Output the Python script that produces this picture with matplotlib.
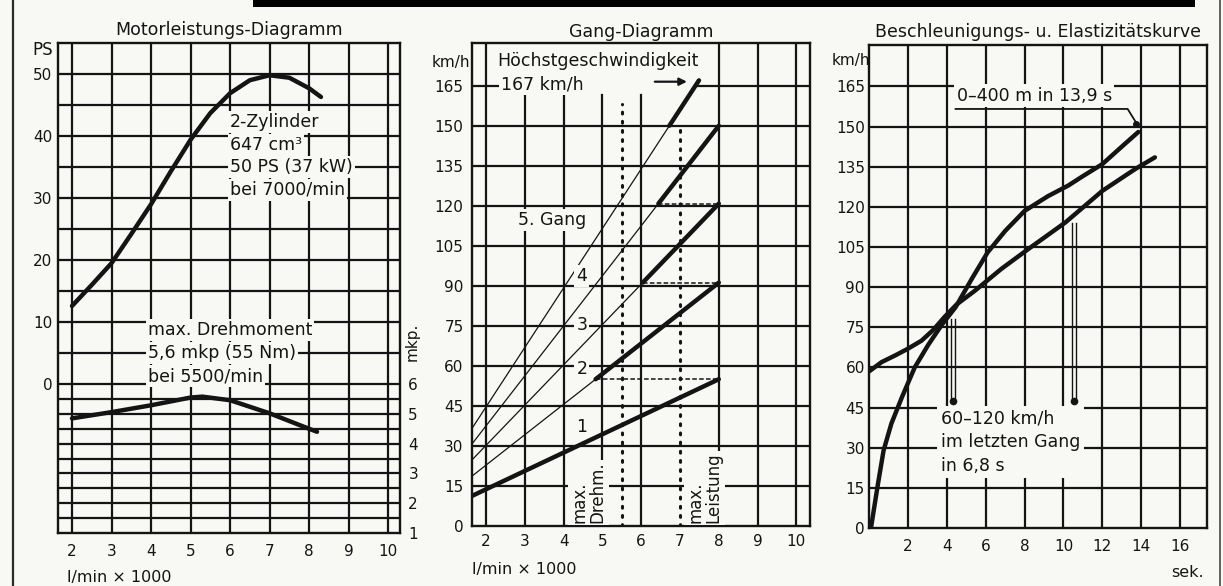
import matplotlib
matplotlib.use("Agg")
import matplotlib.pyplot as plt
from matplotlib.lines import Line2D
from matplotlib.patches import Rectangle

# ---------------- data ----------------
# Panel 1: Motorleistungs-Diagramm
rpm_power = [2.0, 2.5, 3.0, 3.5, 4.0, 4.5, 5.0, 5.5, 6.0, 6.5, 7.0, 7.5, 8.0, 8.3]
power_ps = [12.6, 16.0, 19.5, 24.2, 29.0, 34.3, 39.4, 43.7, 46.9, 49.0, 49.8, 49.4, 47.7, 46.3]
rpm_torque = [2.0, 3.0, 4.0, 5.0, 5.3, 6.0, 7.0, 8.0, 8.2]
torque_mkp = [4.85, 5.06, 5.29, 5.55, 5.58, 5.46, 5.02, 4.50, 4.40]
ps_ticks = [0, 10, 20, 30, 40, 50]
mkp_ticks = [1, 2, 3, 4, 5, 6]
rpm_ticks = [2, 3, 4, 5, 6, 7, 8, 9, 10]

# Panel 2: Gang-Diagramm (km/h per 1000 rpm for gears 1..5)
gear_labels = ["1", "2", "3", "4", "5. Gang"]
gear_kmh_per_1000 = [6.875, 11.4, 15.1, 18.75, 22.3]
max_rpm = 8.0
top_speed = 167
max_torque_rpm = 5.5
max_power_rpm = 7.0
speed_ticks = [0, 15, 30, 45, 60, 75, 90, 105, 120, 135, 150, 165]

# Panel 3: Beschleunigungs- u. Elastizitaetskurve
accel_t = [0.1, 0.45, 0.75, 1.15, 1.7, 2.35, 3.05, 3.75, 4.45, 5.3, 6.1, 7.0, 8.0,
           9.2, 10.25, 11.0, 12.0, 13.15, 13.85]
accel_v = [0, 16, 29, 39, 49, 60, 68.5, 76, 82.5, 93.3, 103.0, 111, 118.5,
           124, 128, 131.5, 136, 143.5, 148]
elast_t = [0.0, 0.65, 1.35, 2.0, 2.7, 3.3, 3.9, 4.5, 5.45, 6.8, 8.2, 10.1, 12.0, 13.7, 14.7]
elast_v = [58.5, 62, 64.5, 67, 70, 74, 79, 83.5, 88.7, 96.8, 104.3, 114.2, 126, 134.2, 138.5]
time_ticks = [2, 4, 6, 8, 10, 12, 14, 16]

# ---------------- style ----------------
BG = "#f8f8f4"
INK = "#141414"
GRID_LW = 1.6
THICK = 3.2
THIN = 0.9
ANN = 12.5
box = dict(boxstyle="square,pad=0.12", fc=BG, ec="none")

plt.rcParams["font.family"] = ["DejaVu Sans"]
fig = plt.figure(figsize=(12.23, 5.86), dpi=100, facecolor=BG)

def px_axes(l, t, r, b):
    W, H = 1223.0, 586.0
    return [l / W, 1 - b / H, (r - l) / W, (b - t) / H]

def style(ax):
    ax.set_facecolor(BG)
    for s in ax.spines.values():
        s.set_linewidth(1.7)
        s.set_color(INK)

# ================= Panel 1 =================
ax1 = fig.add_axes(px_axes(58, 43, 400, 533))
style(ax1)
PS_PER_MKP = 4.8
ax1.set_xlim(1.646, 10.30)
ax1.set_ylim(-24, 55)
for x in rpm_ticks:
    ax1.axvline(x, color=INK, lw=GRID_LW, zorder=1)
for y in range(0, 55, 5):
    ax1.axhline(y, color=INK, lw=GRID_LW, zorder=1)
ax1.plot(rpm_power, power_ps, color=INK, lw=THICK, solid_capstyle="round",
         solid_joinstyle="round", zorder=3)
ax1.set_xticks(rpm_ticks)
ax1.set_yticks(ps_ticks)
ax1.tick_params(axis="x", length=0, pad=8, labelsize=11, colors=INK)
ax1.tick_params(axis="y", length=0, pad=4, labelsize=11, colors=INK)

ax1b = ax1.twinx()
ax1b.set_ylim(1.0, 6 + 55 / PS_PER_MKP)
for s in ax1b.spines.values():
    s.set_visible(False)
for m in [1.5, 2, 2.5, 3, 3.5, 4, 4.5, 5, 5.5]:
    ax1b.axhline(m, color=INK, lw=GRID_LW, zorder=1)
ax1b.plot(rpm_torque, torque_mkp, color=INK, lw=THICK, solid_capstyle="round",
          solid_joinstyle="round", zorder=3)
ax1b.set_yticks(mkp_ticks)
ax1b.tick_params(axis="y", length=0, pad=6, labelsize=11, colors=INK)

for txt, y in [("2-Zylinder", 42.3), ("647 cm³", 38.6), ("50 PS (37 kW)", 35.0),
               ("bei 7000/min", 31.3)]:
    ax1.text(6.0, y, txt, fontsize=ANN, color=INK, ha="left", va="center",
             bbox=box, zorder=4)
for txt, y in [("max. Drehmoment", 8.7), ("5,6 mkp (55 Nm)", 5.0), ("bei 5500/min", 1.3)]:
    ax1.text(3.92, y, txt, fontsize=ANN, color=INK, ha="left", va="center",
             bbox=box, zorder=4)
ax1.text(1.52, 53.9, "PS", fontsize=12, color=INK, ha="right", va="center", clip_on=False)
ax1.text(10.6, 6.8, "mkp.", fontsize=11, color=INK, rotation=90, ha="center",
         va="center", clip_on=False)
ax1.text(1.87, -0.09, "l/min × 1000", transform=ax1.get_xaxis_transform(),
         fontsize=11.5, color=INK, ha="left", va="center")
ax1.text(0.5, 1.027, "Motorleistungs-Diagramm", transform=ax1.transAxes,
         fontsize=12.5, color=INK, ha="center", va="center")

# ================= Panel 2 =================
ax2 = fig.add_axes(px_axes(472, 43, 810, 526))
style(ax2)
ax2.set_xlim(1.64, 10.35)
ax2.set_ylim(0, 181)
for x in [2, 8, 9, 10]:
    ax2.axvline(x, color=INK, lw=GRID_LW, zorder=1)
for x in [3, 4, 5, 6]:
    ax2.plot([x, x], [0, 161.5], color=INK, lw=GRID_LW, zorder=1)
for y in speed_ticks[1:-1]:
    ax2.axhline(y, color=INK, lw=GRID_LW, zorder=1)
ax2.plot([1.64, 2.5], [165, 165], color=INK, lw=GRID_LW, zorder=1)
ax2.plot([7.4, 10.35], [165, 165], color=INK, lw=GRID_LW, zorder=1)

k = gear_kmh_per_1000
for i, ki in enumerate(k):
    if i == 0:
        ax2.plot([0, max_rpm], [0, ki * max_rpm], color=INK, lw=THICK,
                 solid_capstyle="round", zorder=3)
        continue
    v_shift = k[i - 1] * max_rpm
    r_shift = v_shift / ki
    r_end = min(max_rpm, top_speed / ki)
    ax2.plot([0, r_shift], [0, v_shift], color=INK, lw=THIN, zorder=3)
    ax2.plot([r_shift, r_end], [v_shift, ki * r_end], color=INK, lw=THICK,
             solid_capstyle="round", zorder=3)
    ax2.plot([r_shift, max_rpm], [v_shift, v_shift], color=INK, lw=1.1,
             ls=(0, (3, 1.5)), zorder=2)

ax2.plot([max_torque_rpm] * 2, [0, 158], color=INK, lw=2.2, ls=(0, (0.6, 2.4)),
         dash_capstyle="round", zorder=2)
ax2.plot([max_power_rpm] * 2, [0, 151], color=INK, lw=2.2, ls=(0, (0.6, 2.4)),
         dash_capstyle="round", zorder=2)

for lab, (x, y) in zip(gear_labels, [(4.47, 37), (4.47, 58.9), (4.47, 75.2),
                                     (4.47, 93.6), (3.71, 114.7)]):
    ax2.text(x, y, lab, fontsize=ANN, color=INK, ha="center", va="center",
             bbox=box, zorder=4)
ax2.text(4.64, 1.0, "max.\nDrehm.", rotation=90, fontsize=12, color=INK,
         ha="center", va="bottom", multialignment="left", linespacing=1.05,
         bbox=box, zorder=4)
ax2.text(7.63, 1.0, "max.\nLeistung", rotation=90, fontsize=12, color=INK,
         ha="center", va="bottom", multialignment="left", linespacing=1.05,
         bbox=box, zorder=4)
ax2.text(2.3, 174.2, "Höchstgeschwindigkeit", fontsize=ANN, color=INK,
         ha="left", va="center", bbox=box, zorder=4)
ax2.text(2.4, 165.6, "167 km/h", fontsize=ANN, color=INK, ha="left",
         va="center", bbox=box, zorder=4)
ax2.annotate("", xy=(7.25, 166.5), xytext=(6.28, 166.5),
             arrowprops=dict(arrowstyle="-|>", lw=1.6, color=INK, mutation_scale=11),
             zorder=4)
ax2.set_xticks(rpm_ticks)
ax2.set_yticks(speed_ticks)
ax2.tick_params(axis="x", length=0, pad=6, labelsize=11, colors=INK)
ax2.tick_params(axis="y", length=0, pad=6, labelsize=11, colors=INK)
ax2.text(1.60, 173.7, "km/h", fontsize=11, color=INK, ha="right", va="center",
         clip_on=False)
ax2.text(1.64, -0.091, "l/min × 1000", transform=ax2.get_xaxis_transform(),
         fontsize=11.5, color=INK, ha="left", va="center")
ax2.text(0.5, 1.023, "Gang-Diagramm", transform=ax2.transAxes,
         fontsize=12.5, color=INK, ha="center", va="center")

# ================= Panel 3 =================
ax3 = fig.add_axes(px_axes(869, 45, 1207, 528))
style(ax3)
ax3.set_xlim(0, 17.38)
ax3.set_ylim(0, 180.5)
for x in time_ticks:
    ax3.axvline(x, color=INK, lw=GRID_LW, zorder=1)
for y in speed_ticks[1:]:
    ax3.axhline(y, color=INK, lw=GRID_LW, zorder=1)
ax3.plot(accel_t, accel_v, color=INK, lw=THICK, solid_capstyle="round",
         solid_joinstyle="round", zorder=3)
ax3.plot(elast_t, elast_v, color=INK, lw=THICK, solid_capstyle="round",
         solid_joinstyle="round", zorder=3)

# vertical pointer arrows (60-120 km/h)
for t0, vtop in [(4.32, 78), (10.52, 114)]:
    for dt in (-0.1, 0.1):
        ax3.plot([t0 + dt, t0 + dt], [vtop, 48.5], color=INK, lw=1.0, zorder=3)
    ax3.plot([t0], [47.5], marker="o", ms=4.5, color=INK, zorder=3)

ax3.text(3.7, 44.3, "60–120 km/h\nim letzten Gang\nin 6,8 s", fontsize=ANN,
         color=INK, ha="left", va="top", linespacing=1.4,
         bbox=dict(boxstyle="square,pad=0.2", fc=BG, ec="none"), zorder=4)
ax3.text(4.5, 161.6, "0–400 m in 13,9 s", fontsize=ANN, color=INK, ha="left",
         va="center", bbox=box, zorder=4)
ax3.plot([4.45, 13.3, 13.75], [156.6, 156.6, 151.3], color=INK, lw=1.3, zorder=4)
ax3.plot([13.75], [151.0], marker="o", ms=4, color=INK, zorder=4)

ax3.set_xticks(time_ticks)
ax3.set_yticks(speed_ticks)
ax3.tick_params(axis="x", length=0, pad=8, labelsize=11, colors=INK)
ax3.tick_params(axis="y", length=0, pad=3, labelsize=11, colors=INK)
ax3.text(0.05, 174.7, "km/h", fontsize=11, color=INK, ha="right", va="center",
         clip_on=False)
ax3.text(17.2, -0.093, "sek.", transform=ax3.get_xaxis_transform(),
         fontsize=11.5, color=INK, ha="right", va="center")
ax3.text(0.5, 1.027, "Beschleunigungs- u. Elastizitätskurve", transform=ax3.transAxes,
         fontsize=12.5, color=INK, ha="center", va="center")

# ---------------- page decorations ----------------
fig.add_artist(Rectangle((253 / 1223, 1 - 7 / 586), (1195 - 253) / 1223, 7 / 586,
                         transform=fig.transFigure, fc="#000000", ec="none"))
fig.add_artist(Line2D([13 / 1223] * 2, [0, 1], transform=fig.transFigure,
                      color="#2a2a2a", lw=1.6))
fig.add_artist(Line2D([1220 / 1223] * 2, [0, 1], transform=fig.transFigure,
                      color="#555555", lw=1.3))

fig.savefig("out.png", dpi=100, facecolor=BG)
